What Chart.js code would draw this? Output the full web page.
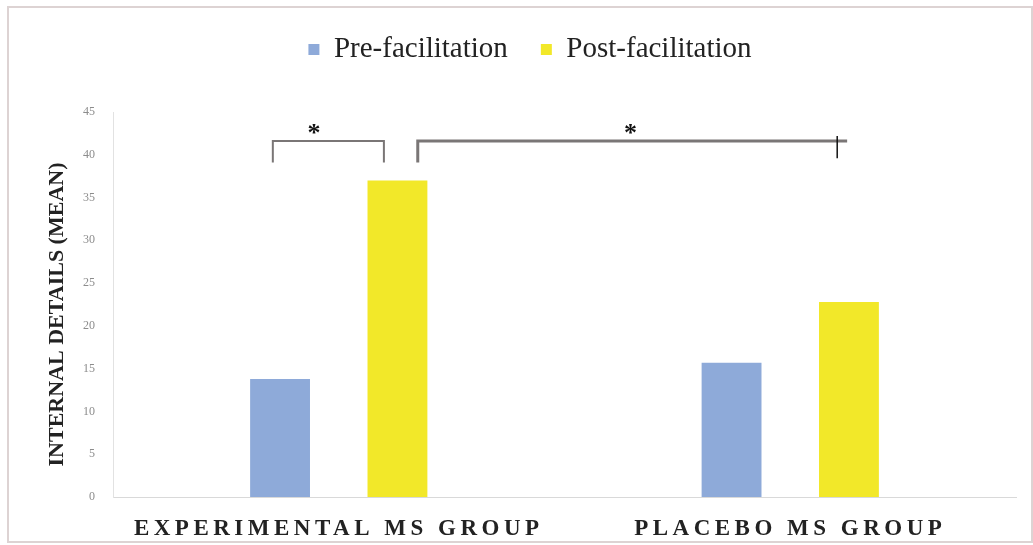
<!DOCTYPE html>
<html>
<head>
<meta charset="utf-8">
<script src="https://cdn.jsdelivr.net/npm/chart.js@4.4.1/dist/chart.umd.min.js"></script>
<style>
  body { margin: 0; background: #fff; }
  .wrap { position: relative; width: 1033px; height: 545px; }
  .frame { position: absolute; left: 7px; top: 6px; right: 0; bottom: 2px; border: 2px solid #ddd3d3; pointer-events: none; }
</style>
</head>
<body>
<div class="wrap">
  <canvas id="myChart" width="1033" height="545"></canvas>
  <div class="frame"></div>
</div>
<script>
// data
const groups = ['EXPERIMENTAL MS GROUP', 'PLACEBO MS GROUP'];
const preFacilitation = [13.8, 15.7];
const postFacilitation = [37.0, 22.8];
const yTicks = [0, 5, 10, 15, 20, 25, 30, 35, 40, 45];

// significance brackets, x in category units, y in axis units
const sigBrackets = [
    { x1: -0.146, x2: 0.100, y: 41.6, drop: 39.1, starX: -0.055, width: 2 },
    { x1: 0.175, x2: 1.126, y: 41.6, drop: 39.1, starX: 0.646, width: 3, tickX: 1.104 }
];

const serif = "'Liberation Serif', 'DejaVu Serif', serif";

// x labels are letter spaced, y title sits a bit low in the original
const axisTweaks = {
    id: 'axisTweaks',
    afterLayout(chart) {
        const sx = chart.scales.x, sy = chart.scales.y;
        if (!sx._tweaked) {
            const drawLabels = sx.drawLabels.bind(sx);
            sx.drawLabels = function (area) {
                const c = this.ctx;
                c.save();
                c.letterSpacing = '4.5px';
                drawLabels(area);
                c.restore();
            };
            sx._tweaked = true;
        }
        if (!sy._tweaked) {
            const drawTitle = sy.drawTitle.bind(sy);
            sy.drawTitle = function (area) {
                const c = this.ctx;
                c.save();
                c.translate(0, 10);
                drawTitle(area);
                c.restore();
            };
            sy._tweaked = true;
        }
    }
};

// extra room under the legend
const legendGap = {
    id: 'legendGap',
    beforeLayout(chart) {
        const lg = chart.legend;
        if (!lg || lg._gap) return;
        const fit = lg.fit;
        lg.fit = function () {
            fit.call(this);
            this.height += 38;
        };
        lg._gap = true;
    }
};

const brackets = {
    id: 'brackets',
    afterDatasetsDraw(chart) {
        const ctx = chart.ctx;
        const x = chart.scales.x, y = chart.scales.y;
        const cw = x.getPixelForValue(1) - x.getPixelForValue(0);
        const px = v => x.getPixelForValue(0) + v * cw;
        ctx.save();
        sigBrackets.forEach(b => {
            ctx.strokeStyle = '#7a7676';
            ctx.lineWidth = b.width;
            ctx.beginPath();
            ctx.moveTo(px(b.x1), y.getPixelForValue(b.drop));
            ctx.lineTo(px(b.x1), y.getPixelForValue(b.y));
            ctx.lineTo(px(b.x2), y.getPixelForValue(b.y));
            if (!b.tickX) ctx.lineTo(px(b.x2), y.getPixelForValue(b.drop));
            ctx.stroke();
            if (b.tickX) {
                ctx.strokeStyle = '#111';
                ctx.lineWidth = 1.5;
                ctx.beginPath();
                ctx.moveTo(px(b.tickX), y.getPixelForValue(b.y + 0.6));
                ctx.lineTo(px(b.tickX), y.getPixelForValue(b.drop + 0.5));
                ctx.stroke();
            }
            ctx.fillStyle = '#111';
            ctx.font = 'bold 26px ' + serif;
            ctx.textAlign = 'center';
            ctx.textBaseline = 'middle';
            ctx.fillText('*', px(b.starX), y.getPixelForValue(b.y) - 7);
        });
        ctx.restore();
    }
};

const ctx = document.getElementById('myChart').getContext('2d');
const myChart = new Chart(ctx, {
    type: 'bar',
    data: {
        labels: groups,
        datasets: [{
            label: 'Pre-facilitation',
            data: preFacilitation,
            backgroundColor: '#8eaad9'
        }, {
            label: 'Post-facilitation',
            data: postFacilitation,
            backgroundColor: '#f2e829'
        }]
    },
    options: {
        responsive: false,
        animation: false,
        events: [],
        categoryPercentage: 0.52,
        barPercentage: 0.51,
        layout: { padding: { left: 44, right: 17, top: 2, bottom: 6 } },
        plugins: {
            tooltip: { enabled: false },
            legend: {
                position: 'top',
                labels: {
                    boxWidth: 11,
                    boxHeight: 11,
                    padding: 33,
                    color: '#222',
                    font: { family: serif, size: 29 }
                }
            }
        },
        scales: {
            x: {
                afterFit: s => { s.height = 42; },
                grid: { display: false, drawTicks: false },
                border: { color: '#d9d9d9', width: 1 },
                ticks: {
                    padding: 18,
                    color: '#222',
                    font: { family: serif, size: 23, weight: 'bold' }
                }
            },
            y: {
                min: 0,
                max: 45,
                afterFit: s => { s.width = 69; },
                afterBuildTicks: axis => { axis.ticks = yTicks.map(v => ({ value: v })); },
                grid: { display: false, drawTicks: false },
                border: { color: '#e2e2e2', width: 1 },
                ticks: {
                    padding: 18,
                    color: '#8c8c8c',
                    font: { family: serif, size: 12 }
                },
                title: {
                    display: true,
                    text: 'INTERNAL DETAILS (MEAN)',
                    color: '#222',
                    padding: { top: 0, bottom: 12 },
                    font: { family: serif, size: 22, weight: 'bold' }
                }
            }
        }
    },
    plugins: [axisTweaks, legendGap, brackets]
});
</script>
</body>
</html>
